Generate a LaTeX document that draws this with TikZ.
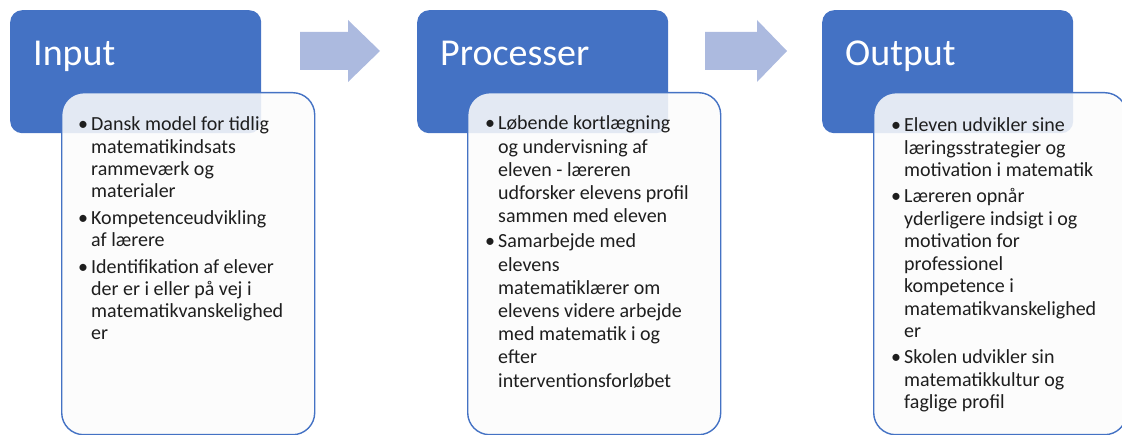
\documentclass[tikz,border=0pt]{standalone}
\usepackage{fontspec}
\setmainfont{Carlito}
\usepackage{array}
\definecolor{hdrblue}{RGB}{68,114,196}
\definecolor{arrowblue}{RGB}{172,186,223}
\definecolor{bodytext}{RGB}{30,30,30}
\definecolor{bodyfill}{RGB}{251,251,251}
\begin{document}
\begin{tikzpicture}[x=1pt,y=-1pt,
  header/.style={fill=hdrblue, draw=none, rounded corners=12pt, minimum width=251pt, minimum height=123pt, anchor=north west, inner sep=0pt},
  bodybox/.style={draw=hdrblue, line width=1.4pt, fill=bodyfill, fill opacity=0.87, rounded corners=22pt, minimum width=253pt, minimum height=342pt, anchor=north west, inner sep=0pt},
  htext/.style={anchor=base west, inner sep=0pt, text=white, font=\fontsize{38}{40}\selectfont},
  btext/.style={anchor=base west, inner sep=0pt, text=bodytext},
  flowarrow/.style={fill=arrowblue, draw=none}]
\useasboundingbox (0,0) rectangle (1122,435);
\clip (0,0) rectangle (1122,435);

% arrows
\fill[flowarrow] (300,32) -- (348,32) -- (348,20) -- (380,51) -- (348,82) -- (348,70) -- (300,70) -- cycle;
\fill[flowarrow] (705,32) -- (757,32) -- (757,20) -- (787,51) -- (757,82) -- (757,70) -- (705,70) -- cycle;

% headers
\node[header] (h1) at (10,10) {};
\node[header] (h2) at (417,10) {};
\node[header] (h3) at (822,10) {};
\node[htext] (h1t) at (33,66) {Input};
\node[htext] (h2t) at (440,66) {Processer};
\node[htext] (h3t) at (845,66) {Output};

% body boxes
\node[bodybox] (b1) at (61,92) {};
\node[bodybox] (b2) at (467,92) {};
\node[bodybox] (b3) at (873,92) {};

\node[btext, font=\fontsize{20}{22.2}\selectfont] (b1t) at (78,131) {\begin{tabular}[t]{@{}p{13pt}@{}l@{}}
\textbullet & Dansk model for tidlig\\
 & matematikindsats\\
 & rammeværk og\\
 & materialer\\[4.5pt]
\textbullet & Kompetenceudvikling\\
 & af lærere\\[4.5pt]
\textbullet & Identifikation af elever\\
 & der er i eller på vej i\\
 & matematikvanskelighed\\
 & er
\end{tabular}};

\node[btext, font=\fontsize{20}{23.2}\selectfont] (b2t) at (485,130) {\begin{tabular}[t]{@{}p{13pt}@{}l@{}}
\textbullet & Løbende kortlægning\\
 & og undervisning af\\
 & eleven - læreren\\
 & udforsker elevens profil\\
 & sammen med eleven\\[2pt]
\textbullet & Samarbejde med\\
 & elevens\\
 & matematiklærer om\\
 & elevens videre arbejde\\
 & med matematik i og\\
 & efter\\
 & interventionsforløbet
\end{tabular}};

\node[btext, font=\fontsize{20}{22.5}\selectfont] (b3t) at (891,132) {\begin{tabular}[t]{@{}p{13pt}@{}l@{}}
\textbullet & Eleven udvikler sine\\
 & læringsstrategier og\\
 & motivation i matematik\\[3.5pt]
\textbullet & Læreren opnår\\
 & yderligere indsigt i og\\
 & motivation for\\
 & professionel\\
 & kompetence i\\
 & matematikvanskelighed\\
 & er\\[3.5pt]
\textbullet & Skolen udvikler sin\\
 & matematikkultur og\\
 & faglige profil
\end{tabular}};
\end{tikzpicture}
\end{document}
